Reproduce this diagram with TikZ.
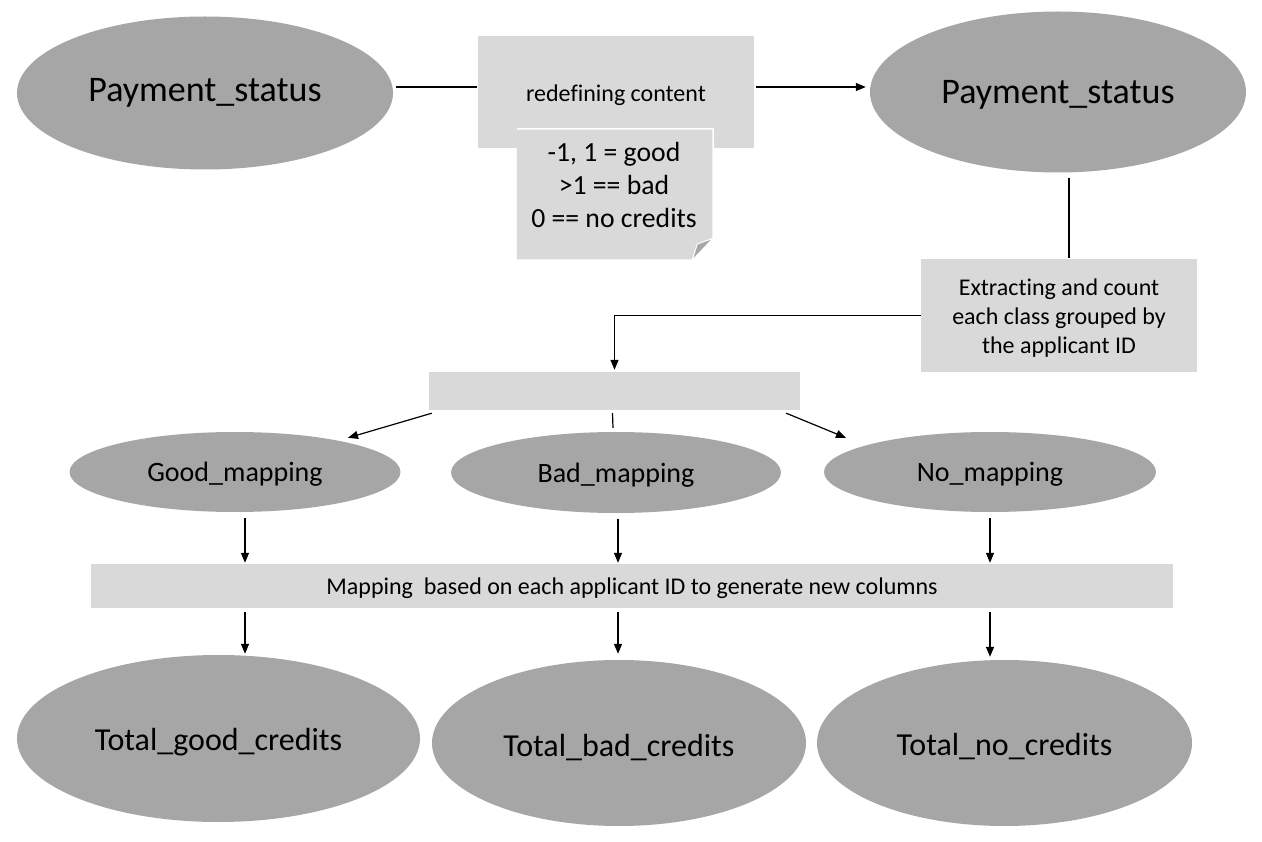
\documentclass[tikz,border=0pt]{standalone}
\usepackage{fontspec}
\setmainfont{Carlito}[Ligatures=NoCommon]
\usetikzlibrary{shapes.geometric,arrows.meta,calc}
\definecolor{ellgray}{HTML}{A6A6A6}
\definecolor{boxgray}{HTML}{D9D9D9}
\tikzset{
  ell/.style={ellipse,fill=ellgray,draw=none,inner sep=0pt},
  gbox/.style={rectangle,fill=boxgray,draw=none,inner sep=0pt,align=center},
  conn/.style={draw=black,line width=1.2pt},
  arr/.style={conn,-{Triangle[length=10pt,width=8pt]}},
}
\newcommand{\fs}[2]{\fontsize{#1}{#2}\selectfont}
\newcommand{\dn}[2]{\raisebox{-#1pt}[\height][\depth]{#2}}
\begin{document}
\begin{tikzpicture}[x=1pt,y=-1pt]
\fill[white] (0,0) rectangle (1262,842);
\useasboundingbox (0,0) rectangle (1262,842);

% top row
\node[ell,minimum width=376pt,minimum height=153pt,font=\fs{36}{40}] (ps1) at (205,93) {Payment\_status};
\node[ell,minimum width=376pt,minimum height=161pt,font=\fs{36}{40}] (ps2) at (1058,92) {\dn{3}{Payment\_status}};
\node[gbox,minimum width=276pt,minimum height=112pt] (redef) at (616,92) {};
\node[font=\fs{24}{28}] (redeftxt) at (616,95) {redefining content};

% note with folded corner
\node[gbox,minimum width=196pt,minimum height=131pt] (note) at (615,194.5) {};
\draw[white,line width=1.5pt,fill=boxgray] (note.north west) -- (note.north east) -- ($(note.south east)+(0,-22)$) -- ($(note.south east)+(-21,0)$) -- (note.south west);
\fill[white] ($(note.south east)+(0,-22)$) -- (note.south east) -- ($(note.south east)+(-21,0)$) -- cycle;
\draw[white,line width=1pt,fill=ellgray] ($(note.south east)+(-21,0)$) -- ($(note.south east)+(0,-22)$) -- ($(note.south east)+(-16,-16)$) -- cycle;
\node[font=\fs{27.7}{33},align=center] (notetxt) at (614,185) {-1, 1 = good\\>1 == bad\\0 == no credits};

\draw[conn] ($(ps1.east)+(3,-6)$) -- ($(redef.west)+(-1,-5)$);
\draw[arr] ($(redef.east)+(2,-5)$) -- ($(ps2.west)+(-4,-5)$);

% extracting
\node[gbox,minimum width=276pt,minimum height=113pt] (ext) at (1059,315.5) {};
\node[font=\fs{24}{29},align=center] (exttxt) at (1059,318) {Extracting and count\\each class grouped by\\the applicant ID};
\draw[conn] ($(ps2.south)+(11,5)$) -- ($(ext.north)+(10,-1)$);

% blank box
\node[gbox,minimum width=371pt,minimum height=38pt] (blank) at (614.5,391) {};
\draw[arr] (ext.west) -| ($(blank.north)+(0,-2)$);

% mapping ellipses
\node[ell,minimum width=331pt,minimum height=80pt,font=\fs{28}{30}] (gm) at (235,472) {\dn{2}{Good\_mapping}};
\node[ell,minimum width=330pt,minimum height=81pt,font=\fs{28}{30}] (bm) at (616,472.5) {\dn{3}{Bad\_mapping}};
\node[ell,minimum width=332pt,minimum height=80pt,font=\fs{28}{30}] (nm) at (990,472) {\dn{2}{No\_mapping}};

\coordinate (gmtip) at ($(gm.north)+(113,6)$);
\coordinate (nmtip) at ($(nm.north)+(-144,6)$);
\draw[arr] ($(blank.south west)+(3,3)$) -- (gmtip);
\draw[conn] ($(blank.south)+(-2,3)$) -- ($(bm.north)+(-3,-4)$);
\draw[arr] ($(blank.south east)+(-14,3)$) -- (nmtip);

% mapping box
\node[gbox,minimum width=1082pt,minimum height=44pt,font=\fs{24}{28}] (map) at (632,586) {\dn{2}{Mapping\ \ based on each applicant ID to generate new columns}};

\draw[arr] ($(gm.south)+(10,6)$) -- ($(map.north)+(-387,-1)$);
\draw[arr] ($(bm.south)+(2,5.5)$) -- ($(map.north)+(-14,-1)$);
\draw[arr] ($(nm.south)+(0,6)$) -- ($(map.north)+(358,-1)$);

% totals
\node[ell,minimum width=403pt,minimum height=167pt,font=\fs{32}{36}] (tg) at (218.5,738.5) {\dn{4}{Total\_good\_credits}};
\node[ell,minimum width=374pt,minimum height=166pt,font=\fs{32}{36}] (tb) at (619,743) {\dn{5}{Total\_bad\_credits}};
\node[ell,minimum width=375pt,minimum height=166pt,font=\fs{32}{36}] (tn) at (1004.5,743) {\dn{4}{Total\_no\_credits}};

\draw[arr] ($(map.south)+(-387,4)$) -- ($(tg.north)+(26.5,-1)$);
\draw[arr] ($(map.south)+(-14,4)$) -- ($(tb.north)+(-1,-6)$);
\draw[arr] ($(map.south)+(358,4)$) -- ($(tn.north)+(-14.5,-3)$);
\end{tikzpicture}
\end{document}
